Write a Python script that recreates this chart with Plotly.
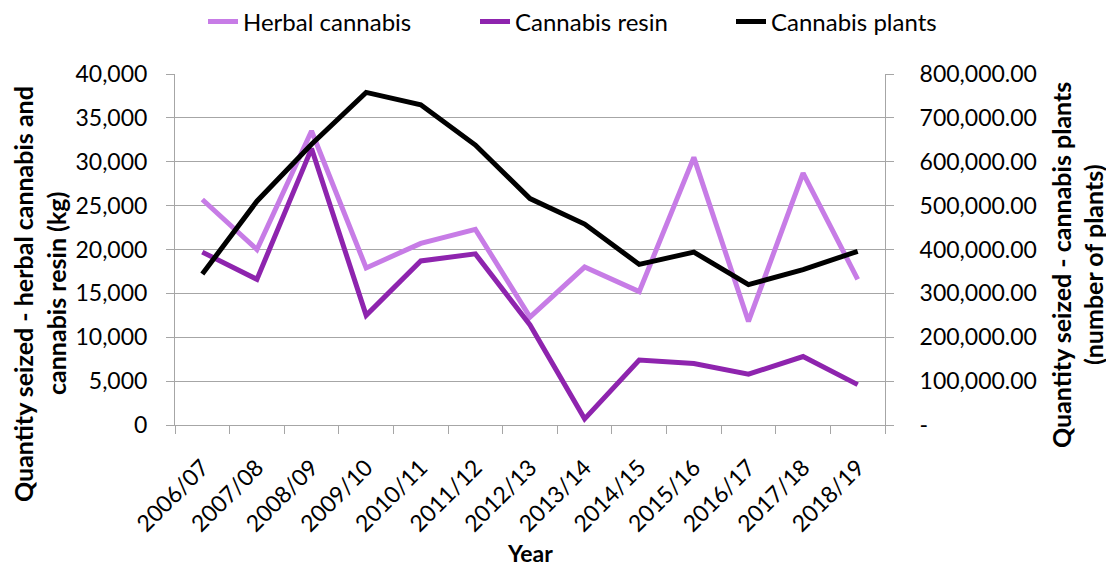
import plotly.graph_objects as go

years = ["2006/07", "2007/08", "2008/09", "2009/10", "2010/11", "2011/12", "2012/13",
         "2013/14", "2014/15", "2015/16", "2016/17", "2017/18", "2018/19"]
herbal_kg = [25700, 20000, 33500, 17900, 20700, 22300, 12300, 18000, 15200, 30500, 11800, 28700, 16600]
resin_kg = [19700, 16600, 31500, 12500, 18700, 19500, 11400, 700, 7400, 7000, 5800, 7800, 4600]
plants_n = [344000, 510000, 640000, 758000, 730000, 638000, 516000, 458000, 366000, 394000, 320000, 354000, 396000]

left_tickvals = [0, 5000, 10000, 15000, 20000, 25000, 30000, 35000, 40000]
right_tickvals = [0, 100000, 200000, 300000, 400000, 500000, 600000, 700000, 800000]
right_ticktext = ["-", "100,000.00", "200,000.00", "300,000.00", "400,000.00",
                  "500,000.00", "600,000.00", "700,000.00", "800,000.00"]

FONT = "Lato, Carlito, Calibri, sans-serif"
GRID = "#A6A6A6"

# figure sits at (8, 8) in the page because of the default body margin
W, H = 1106, 559
ML, MT, PW, PH = 167, 66, 710, 351


def px_to_paper(xf, yf):
    return (xf - ML) / PW, 1 - (yf - MT) / PH


fig = go.Figure()
fig.add_trace(go.Scatter(x=years, y=herbal_kg, name="Herbal cannabis", mode="lines",
                         line=dict(color="#C77CE6", width=5), legend="legend"))
fig.add_trace(go.Scatter(x=years, y=resin_kg, name="Cannabis resin", mode="lines",
                         line=dict(color="#8E24AE", width=5), legend="legend2"))
fig.add_trace(go.Scatter(x=years, y=plants_n, name="Cannabis plants", mode="lines",
                         line=dict(color="#000000", width=5), yaxis="y2", legend="legend3"))

annots = []
for text, xf, yf, size in [
    ("<b>Quantity seized - herbal cannabis and</b>", 15, 286, 25),
    ("<b>cannabis resin (kg)</b>", 48, 286, 25),
    ("<b>Quantity seized - cannabis plants</b>", 1053, 257, 25),
    ("<b>(number of plants)</b>", 1085, 257, 25),
]:
    px_, py_ = px_to_paper(xf, yf)
    annots.append(dict(text=text, xref="paper", yref="paper", x=px_, y=py_, textangle=-90,
                       showarrow=False, xanchor="center", yanchor="middle",
                       font=dict(size=size)))
yx, yy = px_to_paper(522, 545)
annots.append(dict(text="<b>Year</b>", xref="paper", yref="paper", x=yx, y=yy, showarrow=False,
                   xanchor="center", yanchor="middle", font=dict(size=23)))


def legend_at(xf):
    return dict(orientation="h", x=xf / W, xanchor="left", y=1 - 14 / H, yanchor="middle",
                yref="container", xref="container", font=dict(size=24),
                bgcolor="rgba(0,0,0,0)", borderwidth=0)


fig.update_layout(
    width=W, height=H,
    margin=dict(l=ML, r=W - ML - PW, t=MT, b=H - MT - PH, autoexpand=False),
    paper_bgcolor="white", plot_bgcolor="white",
    font=dict(family=FONT, size=23, color="#000000"),
    showlegend=True,
    legend=legend_at(195),
    legend2=legend_at(467),
    legend3=legend_at(723),
    xaxis=dict(
        type="category", range=[-0.5, 12.5], tickangle=-45, ticks="outside",
        tickson="boundaries", ticklen=8, tickcolor=GRID, showline=True, linecolor=GRID,
        linewidth=1, showgrid=False, automargin=False, ticklabelstandoff=19,
        tickfont=dict(size=23),
    ),
    yaxis=dict(
        range=[0, 40000], tickvals=left_tickvals, tickformat=",", ticks="outside",
        ticklen=8, tickcolor=GRID, showline=True, linecolor=GRID, linewidth=1,
        showgrid=True, gridcolor=GRID, gridwidth=1, zeroline=False, automargin=False,
        ticklabelstandoff=14, tickfont=dict(size=23),
    ),
    yaxis2=dict(
        overlaying="y", side="right", range=[0, 800000], tickvals=right_tickvals,
        ticktext=right_ticktext, ticks="outside", ticklen=8, tickcolor=GRID,
        showline=True, linecolor=GRID, linewidth=1, showgrid=False, zeroline=False,
        automargin=False, ticklabelstandoff=21, tickfont=dict(size=23),
    ),
    annotations=annots,
)

fig.write_html("out.html")
